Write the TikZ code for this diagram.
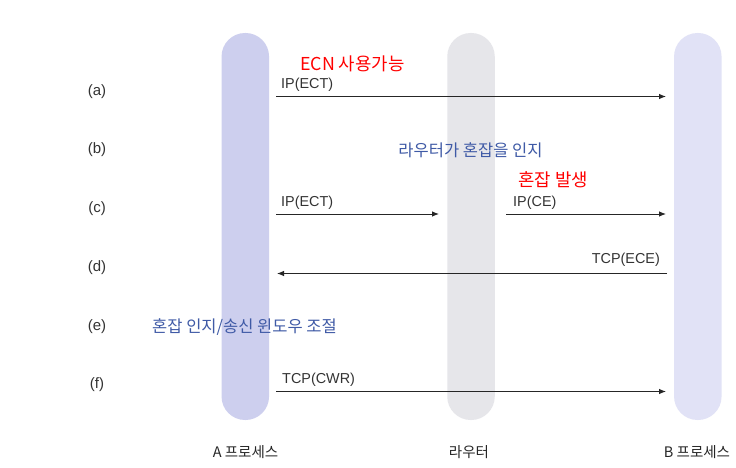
\documentclass[tikz,border=0pt]{standalone}
\usepackage{fontspec}
\setmainfont{Liberation Sans}
\newfontfamily\kr{Noto Sans CJK KR}
\usetikzlibrary{arrows.meta}
\definecolor{pillA}{HTML}{CDCFEE}
\definecolor{pillR}{HTML}{E6E6EA}
\definecolor{pillB}{HTML}{E1E2F6}
\definecolor{txtgray}{HTML}{333333}
\definecolor{txtblue}{HTML}{3F5AA6}
\begin{document}
\begin{tikzpicture}[x=1pt,y=-1pt,
  pillar/.style={rectangle,rounded corners=23.5pt,minimum width=47.5pt,minimum height=387pt,inner sep=0pt,draw=none},
  msg/.style={draw=black!85,line width=0.9pt,-{Latex[length=7pt,width=5.5pt]}},
  lbl/.style={font=\fontsize{14.4}{16}\selectfont,text=txtgray,inner sep=0pt},
  rowlbl/.style={font=\fontsize{15}{17}\selectfont,text=txtgray,inner sep=0pt},
  note/.style={font=\kr\fontsize{16.5}{18}\selectfont,inner sep=0pt},
  rnote/.style={font=\kr\fontsize{17.8}{19}\selectfont,inner sep=0pt,text=red},
  foot/.style={font=\kr\fontsize{14.5}{16}\selectfont,text=black!85,inner sep=0pt}]
\useasboundingbox[fill=white] (0,0) rectangle (736,468);
% pillars
\node[pillar,fill=pillA] (pa) at (245.3,226.5) {};
\node[pillar,fill=pillR] (pr) at (471,226.5) {};
\node[pillar,fill=pillB] (pb) at (697.8,226.5) {};
% row labels
\node[rowlbl] (ra) at (97,92) {(a)};
\node[rowlbl] (rb) at (97,150) {(b)};
\node[rowlbl] (rc) at (97,209) {(c)};
\node[rowlbl] (rd) at (97,268) {(d)};
\node[rowlbl] (re) at (97,327) {(e)};
\node[rowlbl] (rf) at (97,385) {(f)};
% coordinates for message ends
\coordinate (a1) at (276,96.5);  \coordinate (a2) at (666,96.5);
\coordinate (c1) at (276,214);   \coordinate (c2) at (439,214);
\coordinate (c3) at (506,214);   \coordinate (c4) at (666,214);
\coordinate (d1) at (667,273.5); \coordinate (d2) at (277,273.5);
\coordinate (f1) at (276,391.5); \coordinate (f2) at (666,391.5);
% (a)
\draw[msg] (a1) -- (a2);
\node[lbl,anchor=base west] (la) at (281,89) {IP(ECT)};
\node[rnote,anchor=west] (ecn) at (300,64) {ECN 사용가능};
% (b)
\node[note,text=txtblue] (nb) at (470.5,150) {라우터가 혼잡을 인지};
% (c)
\node[rnote] (nc) at (553,180) {혼잡 발생};
\draw[msg] (c1) -- (c2);
\draw[msg] (c3) -- (c4);
\node[lbl,anchor=base west] (lc1) at (281,206) {IP(ECT)};
\node[lbl,anchor=base west] (lc2) at (513,206) {IP(CE)};
% (d)
\draw[msg] (d1) -- (d2);
\node[lbl,anchor=base east] (ld) at (660,263.5) {TCP(ECE)};
% (e)
\node[note,text=txtblue,anchor=west] (ne) at (152,327) {혼잡 인지/송신 윈도우 조절};
% (f)
\draw[msg] (f1) -- (f2);
\node[lbl,anchor=base west] (lf) at (282,383) {TCP(CWR)};
% footers
\node[foot] (fa) at (245.5,452) {A 프로세스};
\node[foot] (fr) at (469,452) {라우터};
\node[foot] (fb) at (697,452) {B 프로세스};
\end{tikzpicture}
\end{document}
